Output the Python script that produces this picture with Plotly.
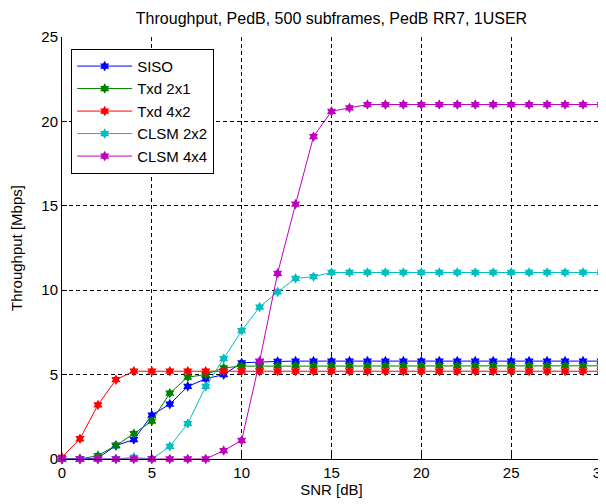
import plotly.graph_objects as go

snr = list(range(0, 31))

siso = [0, 0, 0.05, 0.8, 1.15, 2.6, 3.25, 4.3, 4.75, 5.0, 5.7, 5.75, 5.78] + [5.8] * 18
txd21 = [0, 0, 0.2, 0.8, 1.5, 2.25, 3.9, 4.85, 5.0, 5.4, 5.5, 5.5, 5.52] + [5.52] * 18
txd42 = [0.1, 1.2, 3.2, 4.7, 5.2, 5.2, 5.2, 5.2, 5.2, 5.2, 5.2, 5.2, 5.2] + [5.2] * 18
clsm22 = [0, 0, 0, 0, 0.1, 0, 0.75, 2.1, 4.3, 5.95, 7.6, 9.0, 9.9, 10.7, 10.8] + [11.05] * 16
clsm44 = [0, 0, 0, 0, 0, 0, 0, 0, 0, 0.5, 1.1, 5.8, 11.0, 15.1, 19.1, 20.6, 20.8] + [21.0] * 14

names = ["SISO", "Txd 2x1", "Txd 4x2", "CLSM 2x2", "CLSM 4x4"]
series = [siso, txd21, txd42, clsm22, clsm44]
colors = ["#0000FF", "#008000", "#FF0000", "#00BFBF", "#BF00BF"]

xticks = [0, 5, 10, 15, 20, 25, 30]
yticks = [0, 5, 10, 15, 20, 25]

FONT = "Liberation Sans, Arial"

fig = go.Figure()
for name, ys, c in zip(names, series, colors):
    fig.add_trace(go.Scatter(
        x=snr, y=ys, name=name, mode="lines+markers",
        line=dict(color=c, width=1),
        marker=dict(symbol="hexagram", size=8, color=c),
        cliponaxis=False,
    ))

axis_common = dict(
    showgrid=True, gridcolor="black", griddash="4px,3px", gridwidth=1,
    zeroline=False, showline=True, linecolor="black", linewidth=1,
    ticks="inside", ticklen=5, tickcolor="black", automargin=False,
    tickfont=dict(family=FONT, size=15, color="black"),
)

fig.update_layout(
    width=606, height=504,
    paper_bgcolor="white", plot_bgcolor="white",
    margin=dict(l=54, r=13, t=29, b=53),
    title=dict(text="Throughput, PedB, 500 subframes, PedB RR7, 1USER",
               x=0.5, xref="paper", xanchor="center",
               y=1 - 10 / 504, yanchor="middle",
               font=dict(family=FONT, size=16, color="black")),
    xaxis=dict(range=[0, 30], tickvals=xticks,
               title=dict(text="SNR [dB]", standoff=2,
                          font=dict(family=FONT, size=15, color="black")),
               **axis_common),
    yaxis=dict(range=[0, 25], tickvals=yticks,
               title=dict(text="Throughput [Mbps]", standoff=16,
                          font=dict(family=FONT, size=15, color="black")),
               **axis_common),
    legend=dict(x=0.017, y=0.972, xanchor="left", yanchor="top",
                bgcolor="white", bordercolor="black", borderwidth=1,
                itemwidth=55,
                font=dict(family=FONT, size=15, color="black")),
    showlegend=True,
)

fig.write_html("out.html")
